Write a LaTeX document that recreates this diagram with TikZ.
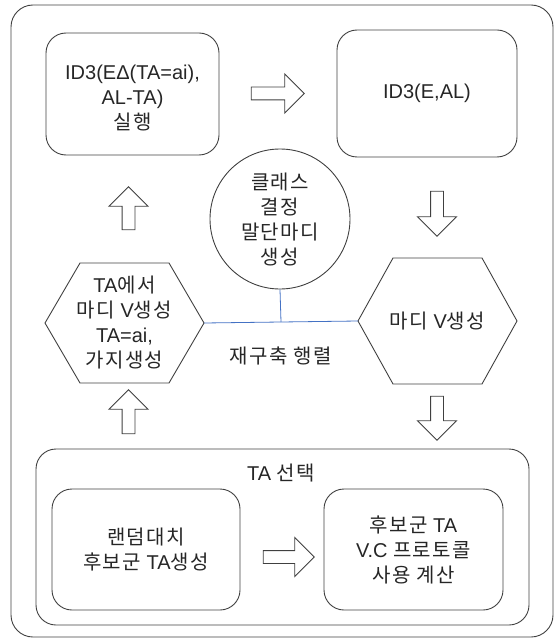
\documentclass[tikz,border=0pt]{standalone}
\usepackage{fontspec}
\setmainfont{Liberation Sans}
\newfontfamily\hangulfont[LetterSpace=7]{Noto Sans CJK KR}
\newcommand{\hg}[1]{{\hangulfont #1}}
\usetikzlibrary{shapes,calc,arrows,positioning}
\definecolor{linkblue}{RGB}{68,114,196}
\tikzstyle{txt} = [align=center, text=black!85, font=\fontsize{20}{25}\selectfont]
\tikzstyle{box} = [txt, draw=black!75, line width=0.9pt, rounded corners=20pt]
\tikzstyle{outline} = [draw=black!75, line width=0.9pt]
\tikzstyle{blockarrow} = [outline, fill=white, single arrow, single arrow head extend=13pt, inner xsep=0pt, inner ysep=6pt]
\tikzstyle{vblockarrow} = [blockarrow, inner xsep=6pt, inner ysep=0pt]
\tikzstyle{link} = [draw=linkblue, line width=0.8pt]

\begin{document}
\begin{tikzpicture}[x=1pt,y=-1pt]
  \useasboundingbox (0,0) rectangle (558,639);
  \draw[outline, rounded corners=22pt] (11,5) rectangle (553,637);
  % top row
  \node[box, minimum width=173pt, minimum height=122pt] (exec) at (132.5,94) {};
  \node[txt] (exectext) at (132.5,98) {ID3(EΔ(TA=ai),\\AL-TA)\\\hg{실행}};
  \node[box, minimum width=180pt, minimum height=127pt] (idthree) at (427,93.5) {ID3(E,AL)};
  \node[blockarrow, minimum height=53pt] (toid) at (274.5,93.5) {};
  % middle
  \node[txt, draw=black!75, line width=0.9pt, circle, minimum size=140pt] (leaf) at (280,219) {\hg{클래스}\\\hg{결정}\\\hg{말단마디}\\\hg{생성}};
  \node[txt] (branch) at (124.5,323) {TA\hg{에서}\\\hg{마디} V\hg{생성}\\TA=ai,\\\hg{가지생성}};
  \draw[outline] ($(branch)+(-79.5,0)$) -- ++(35,-60) -- ++(89,0) -- ++(35,60) coordinate (branchE) -- ++(-35,60) -- ++(-89,0) -- cycle;
  \node[txt] (makenode) at (437.5,321) {\hg{마디} V\hg{생성}};
  \draw[outline] ($(makenode)+(-79.5,0)$) coordinate (makenodeW) -- ++(35,-63) -- ++(89,0) -- ++(35,63) -- ++(-35,63) -- ++(-89,0) -- cycle;
  \coordinate (junction) at ($(branchE)!0.5!(makenodeW)$);
  \draw[link] (branchE) -- (makenodeW);
  \draw[link] (leaf.south) -- (junction);
  \node[txt] (matrix) at (281,356) {\hg{재구축 행렬}};
  \node[vblockarrow, minimum height=43pt, shape border rotate=90] (upA) at (128.5,211.5) {};
  \node[vblockarrow, minimum height=44pt, shape border rotate=90] (upB) at (128.5,415) {};
  \node[vblockarrow, minimum height=45pt, shape border rotate=270] (downA) at (437,210.5) {};
  \node[vblockarrow, minimum height=44pt, shape border rotate=270] (downB) at (437,415) {};
  % bottom
  \draw[outline, rounded corners=20pt] (36,449) rectangle (529,625);
  \node[txt] (select) at (281,473) {TA \hg{선택}};
  \node[box, minimum width=188pt, minimum height=121pt] (randgen) at (146,549.5) {\hg{랜덤대치}\\\hg{후보군} TA\hg{생성}};
  \node[box, minimum width=179pt, minimum height=121pt] (vccalc) at (413.5,549.5) {\hg{후보군} TA\\V.C \hg{프로토콜}\\\hg{사용 계산}};
  \node[blockarrow, minimum height=51pt] (tovc) at (285.5,557) {};
\end{tikzpicture}
\end{document}
